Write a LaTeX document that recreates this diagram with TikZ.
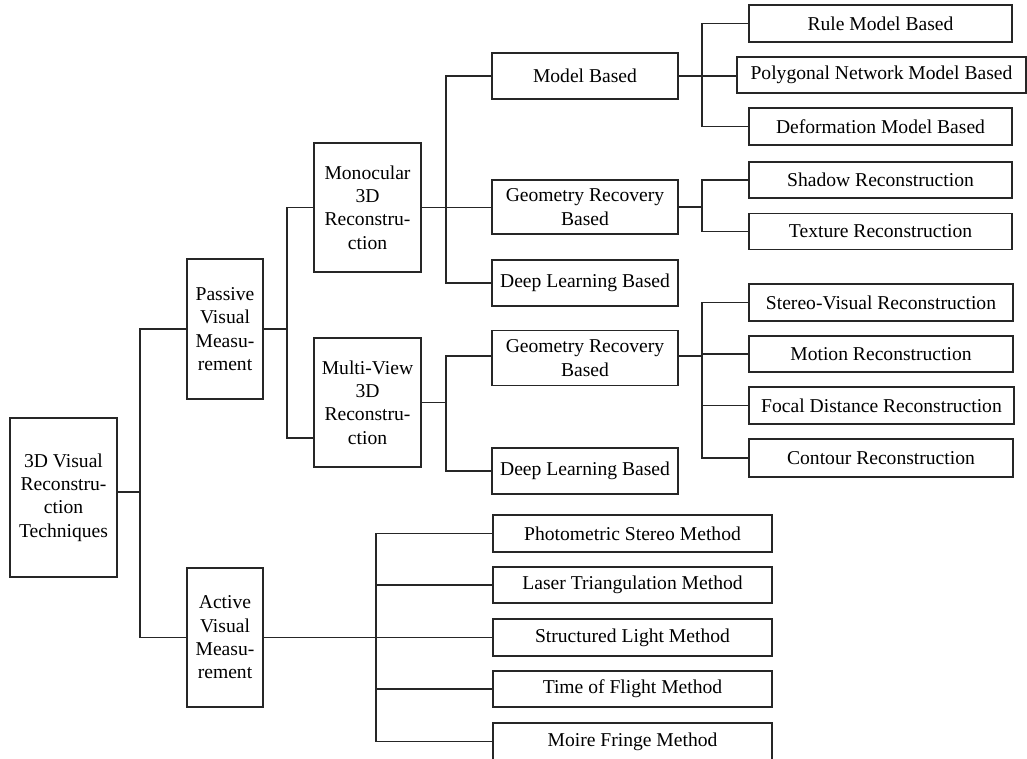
\documentclass[tikz,border=0pt]{standalone}
\usepackage{fontspec}
\setmainfont{Liberation Serif}
\usepackage{tikz}

\tikzset{
  box/.style={draw=black!85, line width=1.3pt, inner sep=0pt, align=center,
    font=\fontsize{19.6}{23.3}\selectfont},
  link/.style={draw=black!85, line width=1.3pt}
}

\begin{document}
\begin{tikzpicture}[x=1pt, y=-1pt]
	\useasboundingbox (0,0) rectangle (1027,758);

	% levels 1 and 2
	\node[box, minimum width=107, minimum height=159] (root)  at (63.5,497.5) {3D Visual\\Reconstru-\\ction\\Techniques};
	\node[box, minimum width=76,  minimum height=140] (pas)   at (225,329)    {Passive\\Visual\\Measu-\\rement};
	\node[box, minimum width=76,  minimum height=139] (act)   at (225,637.5)  {Active\\Visual\\Measu-\\rement};

	% level 3
	\node[box, minimum width=107, minimum height=129] (mono)  at (367.5,207.5) {Monocular\\3D\\Reconstru-\\ction};
	\node[box, minimum width=107, minimum height=129] (multi) at (367.5,402.5) {Multi-View\\3D\\Reconstru-\\ction};

	% level 4
	\node[box, minimum width=186, minimum height=46] (mb)     at (585,76)    {Model Based};
	\node[box, minimum width=186, minimum height=54] (gmono)  at (585,207)   {Geometry Recovery\\Based};
	\node[box, minimum width=186, minimum height=46] (dlmono) at (585,283)   {Deep Learning Based};
	\node[box, minimum width=186, minimum height=55] (gmv)    at (585,358)   {Geometry Recovery\\Based};
	\node[box, minimum width=186, minimum height=46] (dlmv)   at (585,471)   {Deep Learning Based};

	% leaves
	\node[box, minimum width=263, minimum height=37] (rule)    at (880.5,23.5)  {Rule Model Based};
	\node[box, minimum width=289, minimum height=36] (poly)    at (881.5,75)    {Polygonal Network Model Based};
	\node[box, minimum width=263, minimum height=37] (deform)  at (880.5,126.5) {Deformation Model Based};
	\node[box, minimum width=263, minimum height=36] (shadow)  at (880.5,180)   {Shadow Reconstruction};
	\node[box, minimum width=263, minimum height=36] (texture) at (880.5,231.5) {Texture Reconstruction};
	\node[box, minimum width=264, minimum height=37] (stereo)  at (881,302.5)   {Stereo-Visual Reconstruction};
	\node[box, minimum width=264, minimum height=36] (motion)  at (881,354)     {Motion Reconstruction};
	\node[box, minimum width=265, minimum height=37] (focal)   at (881.5,405.5) {Focal Distance Reconstruction};
	\node[box, minimum width=264, minimum height=38] (contour) at (881,458)     {Contour Reconstruction};

	\node[box, minimum width=279, minimum height=37] (photo)  at (632.5,533.5) {Photometric Stereo Method};
	\node[box, minimum width=279, minimum height=36] (laser)  at (632.5,585)   {Laser Triangulation Method};
	\node[box, minimum width=279, minimum height=37] (struct) at (632.5,637.5) {Structured Light Method};
	\node[box, minimum width=279, minimum height=36] (tof)    at (632.5,689)   {Time of Flight Method};
	\node[box, minimum width=279, minimum height=37] (moire)  at (632.5,741.5) {Moire Fringe Method};

	% junctions
	\coordinate (j0) at (140,492);
	\coordinate (j1) at (287,329);
	\coordinate (j2) at (446,207);
	\coordinate (j3) at (702,76);
	\coordinate (j4) at (702,207);
	\coordinate (j5) at (446,402.5);
	\coordinate (j6) at (702,356);
	\coordinate (j7) at (376,637);

	\draw[link] ([yshift=5.5]root.east) -- (j0);
	\draw[link] (pas.west) -| (j0) |- (act.west);

	\draw[link] (pas.east) -- (j1);
	\draw[link] (mono.west) -| (j1) |- ([yshift=-35.5]multi.west);

	\draw[link] (mono.east) -- (mono.east -| gmono.west);
	\draw[link] (mb.west) -| (j2) |- (dlmono.west);

	\draw[link] (mb.east) -- (mb.east -| poly.west);
	\draw[link] (rule.west) -| (j3) |- (deform.west);

	\draw[link] (gmono.east) -- (j4);
	\draw[link] (shadow.west) -| (j4) |- (texture.west);

	\draw[link] (multi.east) -- (j5);
	\draw[link] ([yshift=2]gmv.west) -| (j5) |- (dlmv.west);

	\draw[link] ([yshift=2]gmv.east) -- (j6);
	\draw[link] (stereo.west) -| (j6) |- (contour.west);
	\draw[link] (motion.west) -- (motion.west -| j6);
	\draw[link] (focal.west) -- (focal.west -| j6);

	\draw[link] (act.east) -- (act.east -| j7);
	\draw[link] (photo.west) -| (j7) |- (moire.west);
	\draw[link] (laser.west) -- (laser.west -| j7);
	\draw[link] (struct.west) -- (struct.west -| j7);
	\draw[link] (tof.west) -- (tof.west -| j7);
\end{tikzpicture}
\end{document}
